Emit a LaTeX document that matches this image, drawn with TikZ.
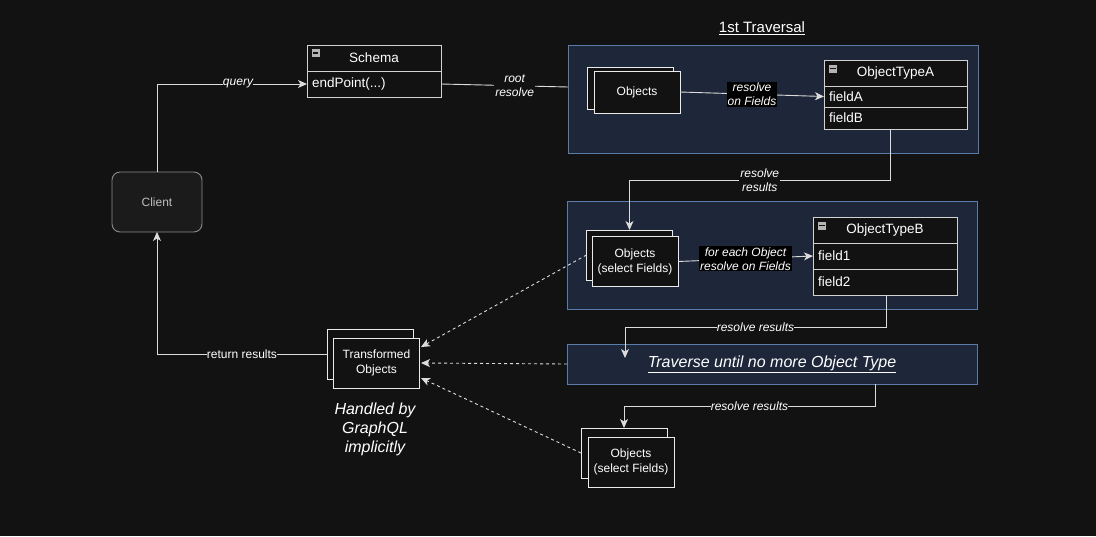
\documentclass[tikz,border=0pt]{standalone}
\usepackage{fontspec}
\setmainfont{Liberation Sans}
\usepackage{xcolor}
\usetikzlibrary{arrows.meta,positioning,calc}

\definecolor{bgdark}{HTML}{121212}
\definecolor{groupfill}{HTML}{1D2739}
\definecolor{groupline}{HTML}{5B7BA8}
\definecolor{linegray}{HTML}{DCDCDC}
\definecolor{boxline}{HTML}{D2D2D2}
\definecolor{clientfill}{HTML}{1B1B1B}
\definecolor{clientline}{HTML}{8A8A8A}
\definecolor{icongray}{HTML}{B4B4B4}

\begin{document}
\begin{tikzpicture}[x=1pt, y=-1pt,
  every node/.style={outer sep=0pt},
  box/.style={draw=white!92!black, fill=bgdark, line width=0.9pt, inner sep=0pt, minimum width=86pt, text=white, align=center, font=\fontsize{12}{15}\selectfont},
  group/.style={draw=groupline, fill=groupfill, line width=0.9pt, inner sep=0pt, minimum width=410pt},
  classhead/.style={draw=boxline, fill=bgdark, line width=0.9pt, inner sep=0pt, minimum height=26pt, text=white, font=\fontsize{13.5}{16}\selectfont},
  classrow/.style={classhead, inner xsep=5pt, align=left},
  minusicon/.style={fill=icongray, minimum width=8pt, minimum height=8pt, inner sep=0pt,
    path picture={\draw[bgdark, line width=1.3pt] ([xshift=-2.6pt]path picture bounding box.center) -- ([xshift=2.6pt]path picture bounding box.center);}},
  lbl/.style={fill=bgdark, text=white, inner sep=1pt, align=center, font=\fontsize{12}{14}\selectfont\itshape},
  link/.style={linegray, line width=0.9pt},
  arrow/.style={link, -{Stealth[length=9pt, width=8pt, inset=2.5pt]}},
  dasharrow/.style={arrow, dash pattern=on 3pt off 3pt}
]
\fill[bgdark] (0,0) rectangle (1096,536);
\useasboundingbox (0,0) rectangle (1096,536);

% client and schema
\node[draw=clientline, fill=clientfill, line width=0.9pt, rounded corners=8pt, minimum width=90pt, minimum height=60pt, text=white!75!black, font=\fontsize{12}{14}\selectfont] (client) at (157,202) {Client};
\node[classhead, minimum width=134pt] (schemaHead) at (374,58) {Schema};
\node[classrow, text width=124pt, below=0pt of schemaHead] (schemaEnd) {endPoint(...)};
\node[minusicon] at ($(schemaHead.north west)+(8.5,8)$) {};

% first traversal
\node[font=\fontsize{15}{18}\selectfont, text=white] (travTitle) at (762,28) {\underline{1st Traversal}};
\node[group, minimum height=108pt] (group1) at (773,99) {};
\node[box, minimum height=42pt] (objAback) at (630,88) {};
\node[box, minimum height=42pt] (objAfront) at (637,92) {Objects};
\node[classhead, minimum width=143pt] (typeAHead) at (895.5,73) {ObjectTypeA};
\node[classrow, minimum height=21pt, text width=133pt, below=0pt of typeAHead] (fieldA) {fieldA};
\node[classrow, minimum height=22pt, text width=133pt, below=0pt of fieldA] (fieldB) {fieldB};
\node[minusicon] at ($(typeAHead.north west)+(9,8.5)$) {};

% second traversal
\node[group, minimum height=108pt] (group2) at (772,255) {};
\node[box, minimum height=50pt] (objBback) at (629.5,255) {};
\node[box, minimum height=50pt] (objBfront) at (635,261.5) {Objects\\(select Fields)};
\node[classhead, minimum width=144pt] (typeBHead) at (885,230) {ObjectTypeB};
\node[classrow, text width=134pt, below=0pt of typeBHead] (field1) {field1};
\node[classrow, text width=134pt, below=0pt of field1] (field2) {field2};
\node[minusicon] at ($(typeBHead.north west)+(9,8.5)$) {};

% remaining traversals
\node[group, minimum height=40pt, text=white, font=\fontsize{16}{19}\selectfont\itshape] (traverse) at (772,364) {\underline{Traverse until no more Object Type}};
\node[box, minimum height=50pt] (objCback) at (624,453) {};
\node[box, minimum height=50pt] (objCfront) at (631,462) {Objects\\(select Fields)};

% transformed objects
\node[box, minimum height=50pt] (transBack) at (370,354) {};
\node[box, minimum height=50pt] (transFront) at (376.5,363) {Transformed\\Objects};
\node[text=white, align=center, font=\fontsize{16}{19}\selectfont\itshape] (handled) at (375,429) {Handled by\\GraphQL\\implicitly};

% bend points
\coordinate (aOut) at (890,129);
\coordinate (bOut) at (886,296);
\coordinate (travIn) at (625,358);
\coordinate (travOut) at (875,384);

% connectors
\draw[arrow] (client.north) |- node[lbl, pos=0.77, inner sep=0pt] {query} (schemaEnd.west);
\draw[link] (schemaEnd.east) -- node[lbl, pos=0.58] {root\\resolve} ($(group1.north west)+(0,42)$);
\draw[arrow] (objAfront.east) -- node[lbl, fill=black] {resolve\\on Fields} (fieldA.west);
\draw[arrow] (aOut) -- (aOut |- 0,180) -- node[lbl] {resolve\\results} (objBback.north |- 0,180) -- (objBback.north);
\draw[arrow] (objBfront.east) -- node[lbl, fill=black] {for each Object\\resolve on Fields} (field1.west);
\draw[arrow] (bOut) -- (bOut |- 0,327) -- node[lbl, inner sep=0pt] {resolve results} (travIn |- 0,327) -- (travIn);
\draw[arrow] (travOut) -- (travOut |- 0,406) -- node[lbl, inner sep=0pt] {resolve results} (objCback.north |- 0,406) -- (objCback.north);
\draw[arrow] (transBack.west) -| node[lbl, pos=0.25, inner sep=0pt, font=\fontsize{12}{14}\selectfont] {return results} (client.south);
\draw[dasharrow] (objBback.west) -- ($(transFront.east)+(1.5,-16)$);
\draw[dasharrow] (traverse.west) -- ($(transFront.east)+(1.5,0)$);
\draw[dasharrow] (objCback.west) -- ($(transFront.east)+(1.5,15)$);
\end{tikzpicture}
\end{document}
